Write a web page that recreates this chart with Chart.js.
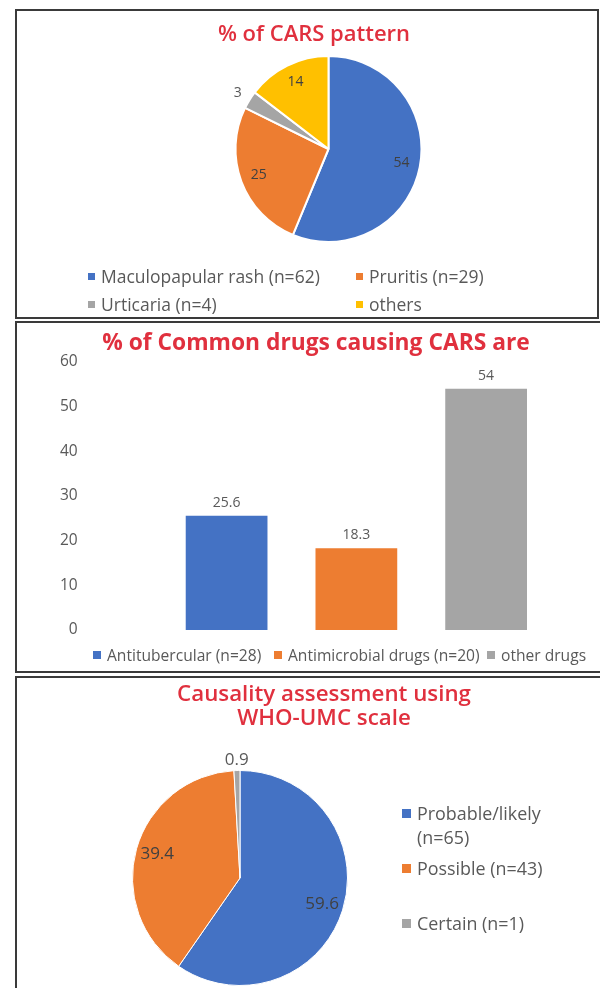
<!DOCTYPE html>
<html>
<head>
<meta charset="utf-8">
<script src="https://cdn.jsdelivr.net/npm/chart.js@4.4.1/dist/chart.umd.min.js"></script>
<style>
  body { margin: 0; width: 600px; height: 988px; overflow: hidden; background: #fff; font-family: "Open Sans", sans-serif; position: relative; }
  .box { position: absolute; border: 2px solid #3a3a3a; box-sizing: border-box; }
  canvas { position: absolute; }
  .title { position: absolute; text-align: center; color: #E0303E; white-space: nowrap; }
  .lg { position: absolute; left: 0; top: 0; width: 600px; height: 988px; color: #595959; white-space: nowrap; line-height: 22px; }
  .lg .it { position: absolute; display: flex; align-items: center; }
  .lg .sw { display: inline-block; flex: none; margin-right: 6px; }
</style>
</head>
<body>
<div class="box" style="left:15px;top:9px;width:584px;height:310px"></div>
<div class="box" style="left:15px;top:321px;width:600px;height:352px"></div>
<div class="box" style="left:15px;top:676px;width:600px;height:340px"></div>

<canvas id="pie1" width="596" height="305" style="left:17px;top:11px"></canvas>
<canvas id="bar2" width="596" height="348" style="left:17px;top:323px"></canvas>
<canvas id="pie3" width="596" height="310" style="left:17px;top:678px"></canvas>

<div class="title" id="t1" style="left:14px;width:600px;top:19px;font-size:22px;font-weight:600;line-height:26px"></div>
<div class="title" id="t2" style="left:16px;width:600px;top:329px;font-size:22.8px;font-weight:700;line-height:26px"></div>
<div class="title" id="t3" style="left:24px;width:600px;top:681px;font-size:22.3px;font-weight:600;line-height:24px"></div>

<div class="lg" id="lg1" style="font-size:17.5px"></div>
<div class="lg" id="lg2" style="font-size:15.6px"></div>
<div class="lg" id="lg3" style="font-size:17.9px;line-height:24px"></div>

<script>
// chart 1 - CARS pattern
const patternTitle = ["% of CARS pattern"];
const patternLabels = ["Maculopapular rash (n=62)", "Pruritis (n=29)", "Urticaria (n=4)", "others"];
const patternValues = [54, 25, 3, 14];
const patternColors = ["#4472C4", "#ED7D31", "#A5A5A5", "#FFC000"];

// chart 2 - drugs
const drugTitle = ["% of Common drugs causing CARS are"];
const drugLabels = ["Antitubercular (n=28)", "Antimicrobial drugs (n=20)", "other drugs"];
const drugValues = [25.6, 18.3, 54];
const drugColors = ["#4472C4", "#ED7D31", "#A5A5A5"];
const yTicks = [0, 10, 20, 30, 40, 50, 60];

// chart 3 - causality
const causalityTitle = ["Causality assessment using", "WHO-UMC scale"];
const causalityLabels = ["Probable/likely (n=65)", "Possible (n=43)", "Certain (n=1)"];
const causalityValues = [59.6, 39.4, 0.9];
const causalityColors = ["#4472C4", "#ED7D31", "#A5A5A5"];

const grey = "#595959";
const font = "'Open Sans', sans-serif";

// labels on pie slices, small ones go outside
const sliceLabels = {
    id: "sliceLabels",
    afterDatasetsDraw(chart, args, opts) {
        const ctx = chart.ctx;
        const data = chart.data.datasets[0].data;
        const total = data.reduce((a, b) => a + b, 0);
        ctx.save();
        ctx.font = opts.font;
        ctx.textAlign = "center";
        ctx.textBaseline = "middle";
        chart.getDatasetMeta(0).data.forEach((arc, i) => {
            const p = arc.getProps(["x", "y", "startAngle", "endAngle", "outerRadius"], true);
            const mid = (p.startAngle + p.endAngle) / 2;
            const small = data[i] / total < 0.05;
            const r = p.outerRadius * (small ? opts.outside : opts.inside);
            ctx.fillStyle = small ? opts.outColor : opts.color;
            ctx.fillText(String(data[i]), p.x + Math.cos(mid) * r, p.y + Math.sin(mid) * r);
        });
        ctx.restore();
    }
};

// value above bars
const barLabels = {
    id: "barLabels",
    afterDatasetsDraw(chart, args, opts) {
        const ctx = chart.ctx;
        const data = chart.data.datasets[0].data;
        ctx.save();
        ctx.font = opts.font;
        ctx.fillStyle = opts.color;
        ctx.textAlign = "center";
        ctx.textBaseline = "middle";
        chart.getDatasetMeta(0).data.forEach((bar, i) => {
            ctx.fillText(String(data[i]), bar.x, bar.y - 13);
        });
        ctx.restore();
    }
};

// html legend, spots = [left, top]
function legend(el, labels, colors, spots, sw) {
    const box = document.getElementById(el);
    labels.forEach((t, i) => {
        const it = document.createElement("div");
        it.className = "it";
        it.style.left = spots[i][0] + "px";
        it.style.top = spots[i][1] + "px";
        const s = document.createElement("span");
        s.className = "sw";
        s.style.width = sw + "px";
        s.style.height = sw + "px";
        s.style.background = colors[i];
        const txt = document.createElement("span");
        txt.textContent = t;
        if (t.includes("\n")) {
            it.style.alignItems = "flex-start";
            s.style.marginTop = "7.5px";
            txt.style.whiteSpace = "pre";
        }
        it.appendChild(s);
        it.appendChild(txt);
        box.appendChild(it);
    });
}

function title(el, lines) {
    const t = document.getElementById(el);
    lines.forEach((l, i) => {
        if (i) t.appendChild(document.createElement("br"));
        t.appendChild(document.createTextNode(l));
    });
}

new Chart(document.getElementById("pie1"), {
    type: "pie",
    data: {
        labels: patternLabels,
        datasets: [{ data: patternValues, backgroundColor: patternColors, borderColor: "#fff", borderWidth: 2 }]
    },
    options: {
        responsive: false,
        animation: false,
        layout: { padding: { left: 100, right: 73, top: 44, bottom: 73 } },
        plugins: {
            legend: { display: false },
            tooltip: { enabled: false },
            sliceLabels: { font: "14px " + font, color: "#404040", outColor: "#595959", inside: 0.8, outside: 1.15 }
        }
    },
    plugins: [sliceLabels]
});

new Chart(document.getElementById("bar2"), {
    type: "bar",
    data: {
        labels: drugLabels,
        datasets: [{ data: drugValues, backgroundColor: drugColors, categoryPercentage: 0.9, barPercentage: 0.7 }]
    },
    options: {
        responsive: false,
        animation: false,
        layout: { padding: { left: 43, right: 62, top: 39, bottom: 41 } },
        scales: {
            x: { display: false },
            y: {
                min: 0, max: 60,
                afterBuildTicks: (s) => { s.ticks = yTicks.map(v => ({ value: v })); },
                // long invisible tick marks push the labels away from the bars
                grid: { display: false, drawTicks: true, tickLength: 84, color: "rgba(0,0,0,0)" },
                border: { display: false },
                ticks: { color: grey, padding: 0, font: { family: font, size: 15.5 } }
            }
        },
        plugins: {
            legend: { display: false },
            tooltip: { enabled: false },
            barLabels: { font: "14px " + font, color: grey }
        }
    },
    plugins: [barLabels]
});

new Chart(document.getElementById("pie3"), {
    type: "pie",
    data: {
        labels: causalityLabels,
        datasets: [{ data: causalityValues, backgroundColor: causalityColors, borderColor: "#fff", borderWidth: 1 }]
    },
    options: {
        responsive: false,
        animation: false,
        layout: { padding: { left: 20, right: 170, top: 92, bottom: 2 } },
        plugins: {
            legend: { display: false },
            tooltip: { enabled: false },
            sliceLabels: { font: "17px " + font, color: "#404040", outColor: "#595959", inside: 0.8, outside: 1.1 }
        }
    },
    plugins: [sliceLabels]
});

title("t1", patternTitle);
title("t2", drugTitle);
title("t3", causalityTitle);
legend("lg1", patternLabels, patternColors, [[88, 265], [356, 265], [88, 293], [356, 293]], 7);
legend("lg2", drugLabels, drugColors, [[93, 644], [274, 644], [487, 644]], 8);
legend("lg3", causalityLabels.map(t => t.replace(" (n=65)", "\n(n=65)")), causalityColors, [[402, 801], [402, 856], [402, 911]], 9);
</script>
</body>
</html>
